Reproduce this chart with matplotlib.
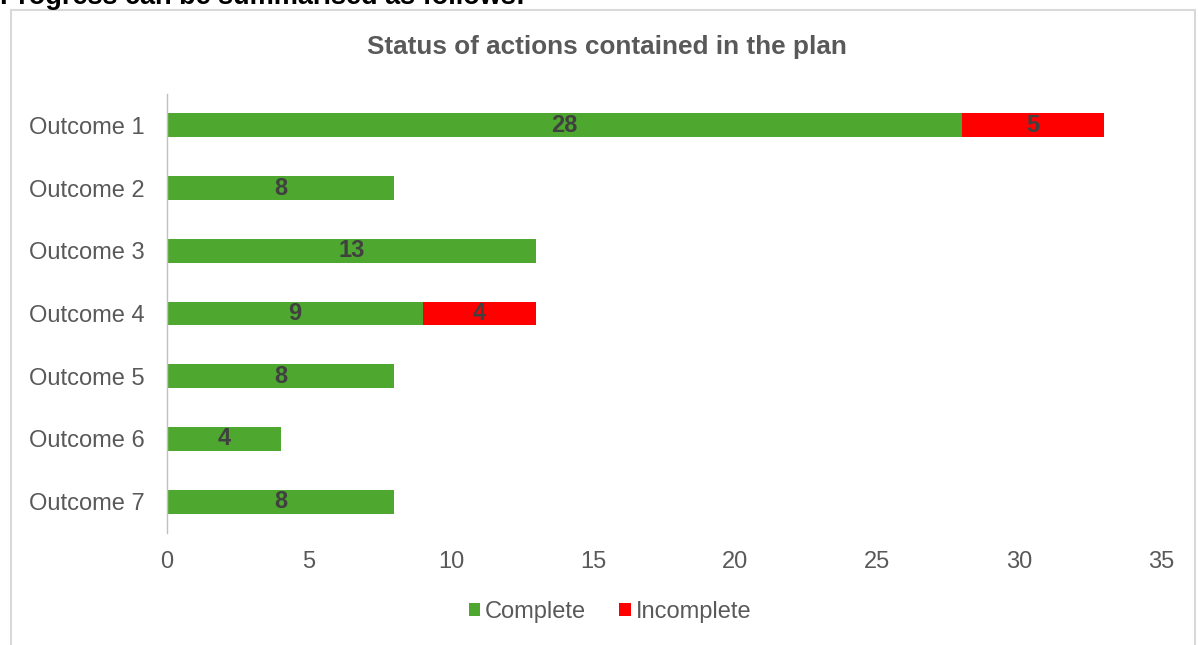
import matplotlib
matplotlib.use("Agg")
import matplotlib.pyplot as plt
from matplotlib.patches import Rectangle

plt.rcParams['font.family'] = ['Liberation Sans', 'DejaVu Sans']

categories = ['Outcome 1', 'Outcome 2', 'Outcome 3', 'Outcome 4',
              'Outcome 5', 'Outcome 6', 'Outcome 7']
complete = [28, 8, 13, 9, 8, 4, 8]
incomplete = [5, 0, 0, 4, 0, 0, 0]
x_ticks = [0, 5, 10, 15, 20, 25, 30, 35]

GREEN = '#4ea72e'
RED = '#ff0000'
TEXT_GRAY = '#595959'
LABEL_GRAY = '#404040'

fig = plt.figure(figsize=(11.98, 6.45), dpi=100)
ax = fig.add_axes([167 / 1198, 1 - 533 / 645, (1161 - 167) / 1198, (533 - 94) / 645])

# outer chart frame
fig.patches.append(Rectangle((11 / 1198, -0.02), (1195 - 11) / 1198, 1 - 10 / 645 + 0.02,
                             transform=fig.transFigure, fill=False,
                             edgecolor='#d9d9d9', linewidth=1.5))

# heading from the document above the chart, cut off by the crop
fig.text(0.0, 1 - 4.5 / 645, 'Progress can be summarised as follows:', fontsize=19.5,
         fontweight='bold', color='black', va='baseline', ha='left')

y = list(range(len(categories)))
bar_h = 0.38
b1 = ax.barh(y, complete, height=bar_h, color=GREEN, label='Complete')
b2 = ax.barh(y, incomplete, left=complete, height=bar_h, color=RED, label='Incomplete')

# value labels in the middle of each segment
for bars, vals in [(b1, complete), (b2, incomplete)]:
    for rect, v in zip(bars, vals):
        if v:
            ax.text(rect.get_x() + rect.get_width() / 2, rect.get_y() + rect.get_height() / 2,
                    str(v), ha='center', va='center', fontsize=17, fontweight='bold',
                    color=LABEL_GRAY)

ax.set_yticks(y)
ax.set_yticklabels(categories, fontsize=17, color=TEXT_GRAY)
ax.set_ylim(len(categories) - 0.5, -0.5)
ax.set_xlim(0, 35)
ax.set_xticks(x_ticks)
ax.set_xticklabels([str(t) for t in x_ticks], fontsize=17, color=TEXT_GRAY)
ax.tick_params(axis='both', length=0)
ax.tick_params(axis='y', pad=16)
ax.tick_params(axis='x', pad=13)

for side in ['top', 'right', 'bottom']:
    ax.spines[side].set_visible(False)
ax.spines['left'].set_color('#bfbfbf')
ax.spines['left'].set_linewidth(1.0)

fig.text(607 / 1198, 1 - 47 / 645, 'Status of actions contained in the plan',
         fontsize=18.8, fontweight='bold', color=TEXT_GRAY, ha='center', va='center')

fig.legend(handles=[b1, b2], labels=['Complete', 'Incomplete'], loc='center',
           bbox_to_anchor=(610 / 1198, 1 - 612 / 645), ncol=2, frameon=False,
           fontsize=17, labelcolor=TEXT_GRAY, handlelength=0.5, handleheight=0.5,
           handletextpad=0.2, columnspacing=1.4)

fig.savefig('out.png', dpi=100)
